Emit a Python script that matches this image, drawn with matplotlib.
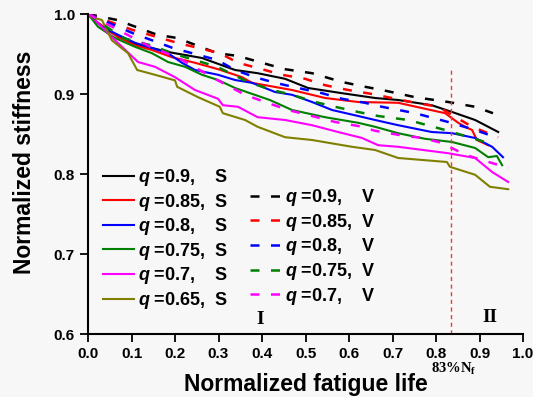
import matplotlib
matplotlib.use("Agg")
import matplotlib.pyplot as plt

plt.rcParams['font.family'] = ['Liberation Sans', 'DejaVu Sans']
plt.rcParams['font.weight'] = 'bold'
plt.rcParams['mathtext.fontset'] = 'custom'
plt.rcParams['mathtext.it'] = 'Liberation Sans:italic:bold'
plt.rcParams['mathtext.rm'] = 'Liberation Sans:bold'

# static loading (S)
x_s90 = [0, 0.02, 0.05, 0.1, 0.184, 0.262, 0.338, 0.39, 0.453, 0.506, 0.584, 0.66, 0.713, 0.79, 0.837, 0.89, 0.943]
y_s90 = [1.0, 0.99, 0.978, 0.964, 0.9525, 0.945, 0.93, 0.926, 0.919, 0.9075, 0.901, 0.895, 0.8925, 0.886, 0.8775, 0.8675, 0.8525]
x_s85 = [0, 0.023, 0.069, 0.108, 0.147, 0.193, 0.246, 0.299, 0.338, 0.354, 0.377, 0.469, 0.545, 0.621, 0.713, 0.821, 0.851, 0.867, 0.883, 0.894, 0.92]
y_s85 = [1.0, 0.989, 0.971, 0.961, 0.955, 0.946, 0.939, 0.931, 0.924, 0.921, 0.914, 0.905, 0.895, 0.89, 0.889, 0.876, 0.864, 0.859, 0.855, 0.8425, 0.836]
x_s80 = [0, 0.032, 0.069, 0.108, 0.147, 0.184, 0.216, 0.246, 0.299, 0.338, 0.377, 0.43, 0.469, 0.515, 0.561, 0.621, 0.66, 0.713, 0.79, 0.837, 0.89, 0.929, 0.954]
y_s80 = [1.0, 0.984, 0.974, 0.964, 0.9575, 0.951, 0.939, 0.93, 0.924, 0.9175, 0.914, 0.9025, 0.899, 0.89, 0.88, 0.8725, 0.8675, 0.861, 0.8525, 0.851, 0.845, 0.834, 0.821]
x_s75 = [0, 0.023, 0.062, 0.108, 0.147, 0.184, 0.223, 0.262, 0.299, 0.338, 0.418, 0.469, 0.545, 0.621, 0.66, 0.713, 0.775, 0.837, 0.89, 0.92, 0.94, 0.952]
y_s75 = [1.0, 0.984, 0.97, 0.959, 0.951, 0.94, 0.934, 0.924, 0.9175, 0.9075, 0.8925, 0.88, 0.871, 0.864, 0.859, 0.851, 0.844, 0.84, 0.8325, 0.821, 0.8225, 0.811]
x_s70 = [0, 0.016, 0.055, 0.115, 0.154, 0.2, 0.246, 0.299, 0.31, 0.345, 0.39, 0.453, 0.515, 0.575, 0.63, 0.667, 0.713, 0.828, 0.89, 0.929, 0.966]
y_s70 = [1.0, 0.9925, 0.971, 0.94, 0.934, 0.921, 0.905, 0.894, 0.886, 0.884, 0.871, 0.8675, 0.861, 0.8525, 0.845, 0.836, 0.834, 0.826, 0.82, 0.8025, 0.79]
x_s65 = [0, 0.032, 0.055, 0.092, 0.113, 0.154, 0.2, 0.205, 0.253, 0.303, 0.31, 0.361, 0.39, 0.453, 0.515, 0.607, 0.66, 0.713, 0.825, 0.832, 0.89, 0.924, 0.966]
y_s65 = [0.997, 0.9925, 0.967, 0.951, 0.93, 0.924, 0.917, 0.909, 0.896, 0.884, 0.876, 0.8675, 0.859, 0.846, 0.8425, 0.834, 0.83, 0.82, 0.815, 0.809, 0.799, 0.784, 0.781]

# variable loading (V)
x_v90 = [0, 0.067, 0.159, 0.205, 0.297, 0.345, 0.4, 0.453, 0.515, 0.584, 0.637, 0.676, 0.752, 0.828, 0.89, 0.931]
y_v90 = [1.0, 0.9925, 0.974, 0.97, 0.951, 0.9475, 0.939, 0.931, 0.926, 0.915, 0.909, 0.905, 0.896, 0.89, 0.884, 0.876]
x_v85 = [0, 0.103, 0.205, 0.303, 0.345, 0.4, 0.446, 0.499, 0.545, 0.598, 0.653, 0.752, 0.805, 0.883, 0.943]
y_v85 = [1.0, 0.98, 0.964, 0.951, 0.939, 0.931, 0.924, 0.919, 0.911, 0.905, 0.9, 0.889, 0.884, 0.859, 0.846]
x_v80 = [0, 0.103, 0.195, 0.297, 0.338, 0.384, 0.43, 0.483, 0.538, 0.584, 0.637, 0.676, 0.752, 0.828, 0.89, 0.929]
y_v80 = [1.0, 0.976, 0.9575, 0.9425, 0.93, 0.921, 0.914, 0.9075, 0.901, 0.894, 0.889, 0.884, 0.876, 0.865, 0.855, 0.8475]
x_v75 = [0, 0.08, 0.143, 0.205, 0.297, 0.368, 0.423, 0.469, 0.522, 0.568, 0.621, 0.667, 0.736, 0.821, 0.913, 0.929]
y_v75 = [1.0, 0.97, 0.961, 0.949, 0.934, 0.915, 0.905, 0.899, 0.89, 0.884, 0.8775, 0.8725, 0.8675, 0.855, 0.84, 0.834]
x_v70 = [0, 0.143, 0.205, 0.297, 0.361, 0.407, 0.46, 0.515, 0.568, 0.621, 0.66, 0.713, 0.768, 0.813, 0.867, 0.906, 0.966]
y_v70 = [1.0, 0.959, 0.946, 0.9175, 0.899, 0.89, 0.88, 0.8725, 0.865, 0.86, 0.854, 0.849, 0.845, 0.839, 0.824, 0.8175, 0.8075]

s_labels = ["0.9,    S", "0.85,  S", "0.8,    S", "0.75,  S", "0.7,    S", "0.65,  S"]
v_labels = ["0.9,    V", "0.85,  V", "0.8,    V", "0.75,  V", "0.7,    V"]
colors = ["black", "red", "blue", "green", "magenta", "olive"]

split_x = 0.835

fig = plt.figure(figsize=(5.33, 3.97), dpi=100)
fig.patch.set_facecolor("#f7f7f7")
ax = fig.add_axes([88 / 533, (397 - 334) / 397, 435 / 533, 320 / 397])
ax.set_facecolor("#f7f7f7")

s_data = [(x_s90, y_s90), (x_s85, y_s85), (x_s80, y_s80), (x_s75, y_s75), (x_s70, y_s70), (x_s65, y_s65)]
v_data = [(x_v90, y_v90), (x_v85, y_v85), (x_v80, y_v80), (x_v75, y_v75), (x_v70, y_v70)]

s_handles = []
for (xs, ys), c, lab in zip(s_data, colors, s_labels):
    h, = ax.plot(xs, ys, color=c, lw=1.5, label=r"$q$ =" + lab)
    s_handles.append(h)
v_handles = []
for (xs, ys), c, lab in zip(v_data, colors, v_labels):
    h, = ax.plot(xs, ys, color=c, lw=1.8, dashes=(3.6, 4.6), label=r"$q$ =" + lab)
    v_handles.append(h)

ax.plot([split_x, split_x], [0.6, 0.93], color="#ff3333", lw=1, dashes=(3, 2.5))

ax.set_xlim(0, 1.0)
ax.set_ylim(0.6, 1.0)
ax.set_xticks([i / 10 for i in range(11)])
ax.set_yticks([0.6, 0.7, 0.8, 0.9, 1.0])
ax.tick_params(labelsize=11, width=1.3, length=5.5, direction="out", pad=4)
for s in ["top", "right"]:
    ax.spines[s].set_visible(False)
for s in ["left", "bottom"]:
    ax.spines[s].set_linewidth(1.5)

fig.text(306 / 533, 1 - 385 / 397, "Normalized fatigue life", fontsize=16.5, fontweight="bold",
         ha="center", va="center")
fig.text(25 / 533, 1 - 162 / 397, "Normalized stiffness", fontsize=16.5, fontweight="bold",
         ha="center", va="center", rotation=90)

ax.text(0.395, 0.6175, "I", family="Liberation Serif", fontsize=14, fontweight="bold", ha="center", va="center")
ax.text(0.924, 0.621, "II", family="Liberation Serif", fontsize=14, fontweight="bold", ha="center", va="center")
ax.text(split_x + 0.005, -0.11, r"83%N$_{\mathregular{f}}$", transform=ax.get_xaxis_transform(),
        family="Liberation Serif", fontsize=10.5, fontweight="bold", ha="center", va="center",
        math_fontfamily="dejavuserif")

leg1 = ax.legend(handles=s_handles, loc="upper left", bbox_to_anchor=(0.0345, 0.522), frameon=False,
                 fontsize=13, handlelength=1.72, handletextpad=0.22, labelspacing=0.2,
                 borderaxespad=0, borderpad=0)
ax.add_artist(leg1)
ax.legend(handles=v_handles, loc="upper left", bbox_to_anchor=(0.372, 0.459), frameon=False,
          fontsize=13, handlelength=1.83, handletextpad=0.1, labelspacing=0.2,
          borderaxespad=0, borderpad=0)

fig.savefig("out.png", dpi=100, facecolor=fig.get_facecolor())
